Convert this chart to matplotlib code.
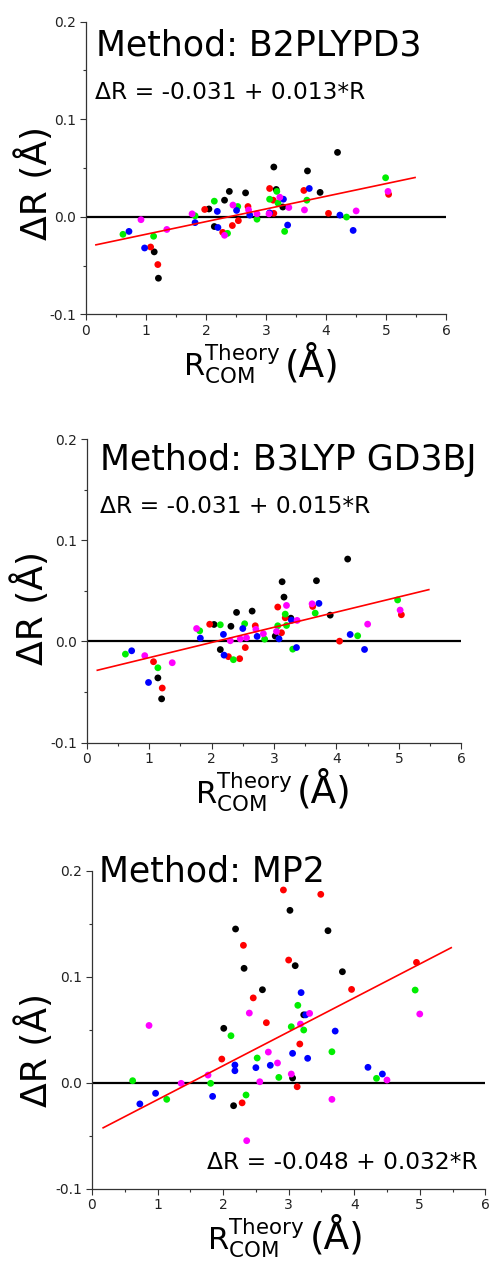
import numpy as np
import matplotlib
matplotlib.use('Agg')
import matplotlib.pyplot as plt
from matplotlib.ticker import MultipleLocator, FuncFormatter

plt.rcParams['font.family'] = ['DejaVu Sans']
plt.rcParams['mathtext.fontset'] = 'dejavusans'

W, H = 493, 1264

colors = ['black', '#ff0000', '#00ee00', '#0000ff', '#ff00ff']
methods = ['B2PLYPD3', 'B3LYP GD3BJ', 'MP2']
intercepts = [-0.031, -0.031, -0.048]
slopes = [0.013, 0.015, 0.032]
fit_x = [0.17, 5.48]

# ---- B2PLYPD3 ----
b2_black_x = [1.14, 1.21, 2.05, 2.14, 2.31, 2.39, 2.66, 3.13, 3.17, 3.28, 3.69, 3.90, 4.19]
b2_black_y = [-0.036, -0.063, 0.008, -0.010, 0.017, 0.026, 0.0245, 0.051, 0.028, 0.010, 0.047, 0.025, 0.066]
b2_red_x = [1.08, 1.20, 1.98, 2.28, 2.44, 2.54, 2.70, 3.06, 3.12, 3.13, 3.63, 4.04, 5.04]
b2_red_y = [-0.031, -0.049, 0.0075, -0.016, -0.009, -0.004, 0.0105, 0.029, 0.017, 0.0035, 0.027, 0.0035, 0.023]
b2_green_x = [0.62, 1.13, 1.82, 2.14, 2.36, 2.53, 2.85, 3.06, 3.18, 3.20, 3.31, 3.68, 4.34, 4.99]
b2_green_y = [-0.018, -0.020, 0.001, 0.016, -0.017, 0.0105, -0.0025, 0.018, 0.026, 0.014, -0.015, 0.017, -0.0003, 0.040]
b2_blue_x = [0.72, 0.98, 1.82, 2.19, 2.20, 2.51, 2.73, 3.06, 3.29, 3.36, 3.72, 4.23, 4.45]
b2_blue_y = [-0.015, -0.032, -0.006, 0.0055, -0.011, 0.0065, 0.0017, 0.004, 0.018, -0.0085, 0.029, 0.0017, -0.014]
b2_mag_x = [0.92, 1.35, 1.77, 2.31, 2.45, 2.71, 2.85, 3.05, 3.23, 3.38, 3.64, 4.50, 5.03]
b2_mag_y = [-0.003, -0.013, 0.003, -0.019, 0.012, 0.007, 0.003, 0.003, 0.020, 0.0095, 0.007, 0.006, 0.026]

# ---- B3LYP GD3BJ ----
b3_black_x = [1.14, 1.20, 2.04, 2.14, 2.31, 2.40, 2.65, 3.02, 3.13, 3.16, 3.27, 3.68, 3.90, 4.18]
b3_black_y = [-0.036, -0.0567, 0.0168, -0.008, 0.015, 0.0287, 0.030, 0.0053, 0.059, 0.0438, 0.023, 0.060, 0.026, 0.0814]
b3_red_x = [1.07, 1.21, 1.97, 2.27, 2.45, 2.54, 2.70, 3.06, 3.12, 3.18, 3.62, 4.05, 5.04]
b3_red_y = [-0.020, -0.046, 0.017, -0.015, -0.017, -0.006, 0.0155, 0.034, 0.0086, 0.0234, 0.0346, 0.0003, 0.0264]
b3_green_x = [0.62, 1.14, 1.81, 2.14, 2.35, 2.53, 2.85, 3.06, 3.18, 3.20, 3.30, 3.66, 4.34, 4.98]
b3_green_y = [-0.0125, -0.026, 0.0105, 0.0165, -0.018, 0.0175, 0.0023, 0.0155, 0.027, 0.0158, -0.0076, 0.028, 0.0056, 0.041]
b3_blue_x = [0.72, 0.99, 1.82, 2.19, 2.20, 2.50, 2.73, 3.08, 3.28, 3.36, 3.72, 4.22, 4.45]
b3_blue_y = [-0.0092, -0.0405, 0.0033, 0.007, -0.0135, 0.0128, 0.005, 0.0026, 0.021, -0.006, 0.0376, 0.0069, -0.0079]
b3_mag_x = [0.93, 1.37, 1.76, 2.30, 2.46, 2.56, 2.71, 2.83, 3.04, 3.20, 3.37, 3.61, 4.50, 5.02]
b3_mag_y = [-0.014, -0.021, 0.0128, 0.0007, 0.0025, 0.0036, 0.012, 0.0076, 0.0099, 0.0356, 0.0208, 0.0372, 0.0171, 0.031]

# ---- MP2 ----
mp_black_x = [2.01, 2.16, 2.19, 2.32, 2.60, 3.02, 3.06, 3.10, 3.23, 3.60, 3.82]
mp_black_y = [0.0513, -0.0217, 0.145, 0.1079, 0.0877, 0.1626, 0.0044, 0.1104, 0.064, 0.1434, 0.1047]
mp_red_x = [1.98, 2.29, 2.31, 2.46, 2.66, 2.92, 3.00, 3.13, 3.17, 3.49, 3.96, 4.95]
mp_red_y = [0.0223, -0.019, 0.1296, 0.080, 0.0566, 0.1818, 0.1157, -0.0038, 0.0365, 0.1777, 0.088, 0.1135]
mp_green_x = [0.62, 1.14, 1.81, 2.12, 2.35, 2.52, 2.85, 3.04, 3.14, 3.23, 3.66, 4.34, 4.93]
mp_green_y = [0.0019, -0.0157, -0.0006, 0.0443, -0.0116, 0.0233, 0.005, 0.0528, 0.073, 0.0497, 0.0292, 0.0041, 0.0874]
mp_blue_x = [0.73, 0.97, 1.84, 2.18, 2.18, 2.50, 2.72, 3.06, 3.19, 3.26, 3.29, 3.71, 4.21, 4.43]
mp_blue_y = [-0.020, -0.010, -0.0129, 0.0167, 0.0113, 0.0142, 0.0164, 0.0277, 0.085, 0.064, 0.023, 0.0487, 0.0145, 0.0082]
mp_mag_x = [0.87, 1.36, 1.77, 2.36, 2.40, 2.56, 2.69, 2.83, 3.04, 3.18, 3.32, 3.66, 4.50, 5.00]
mp_mag_y = [0.054, -0.0006, 0.0072, -0.0547, 0.0657, 0.0009, 0.0289, 0.0186, 0.0082, 0.0553, 0.0654, -0.0157, 0.0025, 0.0648]

panels = [
    [(b2_black_x, b2_black_y), (b2_red_x, b2_red_y), (b2_green_x, b2_green_y),
     (b2_blue_x, b2_blue_y), (b2_mag_x, b2_mag_y)],
    [(b3_black_x, b3_black_y), (b3_red_x, b3_red_y), (b3_green_x, b3_green_y),
     (b3_blue_x, b3_blue_y), (b3_mag_x, b3_mag_y)],
    [(mp_black_x, mp_black_y), (mp_red_x, mp_red_y), (mp_green_x, mp_green_y),
     (mp_blue_x, mp_blue_y), (mp_mag_x, mp_mag_y)],
]

# axes boxes in pixels: left, right, top, bottom
boxes = [(85.7, 446.3, 21.7, 314.3), (86.7, 461.3, 439.0, 742.7), (92.0, 485.3, 870.7, 1188.7)]
# text anchors in pixels (x, baseline y)
title_pos = [(96, 55), (100, 470), (99, 882)]
eq_pos = [(95, 99), (100, 513), (207, 1169)]
ylab_pos = [(35, 183), (31, 608), (35, 1050)]
xlab_pos = [(183, 376, 285), (195, 803, 297), (207, 1249, 310)]


def fx(x):
    return x / W


def fy(y):
    return 1 - y / H


fig = plt.figure(figsize=(W / 100, H / 100), dpi=100)

for i, series in enumerate(panels):
    l, r, t, b = boxes[i]
    ax = fig.add_axes([fx(l), fy(b), (r - l) / W, (b - t) / H])
    ax.axhline(0, color='black', lw=1.6, zorder=1)
    for (xs, ys), c in zip(series, colors):
        ax.scatter(xs, ys, s=24, color=c, edgecolors='none', zorder=2)
    xx = np.array(fit_x)
    ax.plot(xx, intercepts[i] + slopes[i] * xx, color='#ff0000', lw=1.2, zorder=3)

    ax.set_xlim(0, 6)
    ax.set_ylim(-0.1, 0.2)
    ax.xaxis.set_major_locator(MultipleLocator(1))
    ax.xaxis.set_minor_locator(MultipleLocator(0.5))
    ax.yaxis.set_major_locator(MultipleLocator(0.1))
    ax.yaxis.set_minor_locator(MultipleLocator(0.05))
    ax.xaxis.set_major_formatter(FuncFormatter(lambda v, p: '%d' % v))
    ax.yaxis.set_major_formatter(FuncFormatter(lambda v, p: '%.1f' % v))
    for s in ['top', 'right']:
        ax.spines[s].set_visible(False)
    for s in ['left', 'bottom']:
        ax.spines[s].set_color('#333333')
        ax.spines[s].set_linewidth(0.9)
    ax.tick_params(which='major', direction='out', length=4, width=0.8, color='#333333',
                   labelsize=10, labelcolor='#222222', pad=3)
    ax.tick_params(which='minor', direction='out', length=2, width=0.8, color='#333333')

    tx, ty = title_pos[i]
    fig.text(fx(tx), fy(ty), 'Method: ' + methods[i], fontsize=25, va='baseline', ha='left')
    ex, ey = eq_pos[i]
    fig.text(fx(ex), fy(ey), 'ΔR = %.3f + %.3f*R' % (intercepts[i], slopes[i]),
             fontsize=16.8, va='baseline', ha='left')
    yx, yy = ylab_pos[i]
    fig.text(fx(yx), fy(yy), 'ΔR (Å)', fontsize=26, rotation=90, va='center', ha='center')
    rx, rb, px2 = xlab_pos[i]
    fig.text(fx(rx), fy(rb), r'$\mathregular{R_{COM}^{Theory}}$', fontsize=22, va='baseline', ha='left')
    fig.text(fx(px2), fy(rb), '(Å)', fontsize=27, va='baseline', ha='left')

fig.savefig('out.png', dpi=100)
